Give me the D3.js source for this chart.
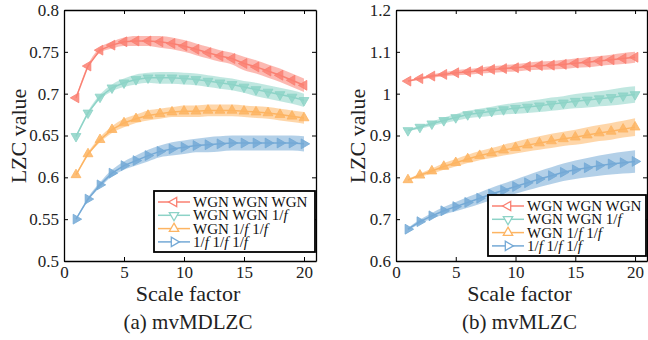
<!DOCTYPE html>
<html>
<head>
<meta charset="utf-8">
<script src="https://cdn.jsdelivr.net/npm/d3@7"></script>
<style>
  body { margin: 0; background: #fff; }
  svg { display: block; font-family: "Liberation Serif", "Times New Roman", serif; }
</style>
</head>
<body>
<svg id="chart" width="648" height="340"></svg>
<script>
const scales = [1, 2, 3, 4, 5, 6, 7, 8, 9, 10, 11, 12, 13, 14, 15, 16, 17, 18, 19, 20];
const seriesNames = ["WGN WGN WGN", "WGN WGN 1/f", "WGN 1/f 1/f", "1/f 1/f 1/f"];
const colors = ["#fa8072", "#8dd3c7", "#fdb462", "#74a9d6"];
const markerTurns = [-90, 180, 0, 90]; // left, down, up, right

// (a) mvMDLZC
const mdRed = [0.695, 0.733, 0.752, 0.758, 0.762, 0.763, 0.763, 0.762, 0.760, 0.757, 0.753, 0.749, 0.745, 0.742, 0.736, 0.732, 0.727, 0.722, 0.716, 0.710];
const mdGreen = [0.649, 0.677, 0.696, 0.707, 0.713, 0.717, 0.719, 0.719, 0.719, 0.718, 0.717, 0.715, 0.713, 0.711, 0.708, 0.705, 0.702, 0.699, 0.696, 0.692];
const mdOrange = [0.603, 0.628, 0.645, 0.657, 0.665, 0.670, 0.674, 0.676, 0.678, 0.679, 0.679, 0.680, 0.680, 0.680, 0.679, 0.678, 0.677, 0.675, 0.673, 0.671];
const mdBlue = [0.550, 0.574, 0.591, 0.605, 0.614, 0.620, 0.626, 0.631, 0.634, 0.636, 0.638, 0.639, 0.640, 0.641, 0.641, 0.641, 0.641, 0.641, 0.641, 0.640];
const mdRedErr = [0.001, 0.002, 0.003, 0.004, 0.005, 0.006, 0.006, 0.007, 0.007, 0.007, 0.007, 0.007, 0.007, 0.007, 0.008, 0.008, 0.008, 0.008, 0.008, 0.008];
const mdGreenErr = [0.001, 0.002, 0.003, 0.004, 0.005, 0.006, 0.006, 0.007, 0.007, 0.007, 0.007, 0.007, 0.007, 0.007, 0.007, 0.008, 0.008, 0.008, 0.008, 0.008];
const mdOrangeErr = [0.001, 0.002, 0.003, 0.004, 0.005, 0.005, 0.006, 0.006, 0.006, 0.007, 0.007, 0.007, 0.007, 0.007, 0.007, 0.007, 0.007, 0.007, 0.007, 0.007];
const mdBlueErr = [0.001, 0.002, 0.003, 0.004, 0.005, 0.006, 0.007, 0.007, 0.008, 0.008, 0.008, 0.009, 0.009, 0.009, 0.009, 0.009, 0.009, 0.009, 0.009, 0.009];
const mdTicks = [0.5, 0.55, 0.6, 0.65, 0.7, 0.75, 0.8];

// (b) mvMLZC
const mlRed = [1.030, 1.036, 1.042, 1.046, 1.050, 1.052, 1.055, 1.058, 1.060, 1.062, 1.065, 1.067, 1.068, 1.070, 1.073, 1.075, 1.078, 1.081, 1.084, 1.087];
const mlGreen = [0.912, 0.920, 0.928, 0.936, 0.943, 0.950, 0.954, 0.958, 0.962, 0.965, 0.968, 0.971, 0.975, 0.978, 0.982, 0.985, 0.988, 0.991, 0.995, 0.998];
const mlOrange = [0.794, 0.805, 0.815, 0.826, 0.835, 0.844, 0.852, 0.858, 0.865, 0.871, 0.877, 0.882, 0.887, 0.892, 0.896, 0.901, 0.906, 0.910, 0.915, 0.920];
const mlBlue = [0.676, 0.694, 0.708, 0.720, 0.730, 0.740, 0.750, 0.760, 0.769, 0.778, 0.787, 0.796, 0.804, 0.812, 0.818, 0.823, 0.828, 0.832, 0.835, 0.838];
const mlRedErr = [0.002, 0.003, 0.004, 0.005, 0.006, 0.007, 0.007, 0.008, 0.008, 0.009, 0.009, 0.010, 0.010, 0.011, 0.011, 0.012, 0.012, 0.012, 0.013, 0.013];
const mlGreenErr = [0.002, 0.004, 0.005, 0.007, 0.008, 0.009, 0.010, 0.011, 0.012, 0.013, 0.014, 0.015, 0.016, 0.016, 0.017, 0.018, 0.018, 0.019, 0.020, 0.020];
const mlOrangeErr = [0.002, 0.004, 0.006, 0.008, 0.009, 0.010, 0.011, 0.012, 0.013, 0.014, 0.015, 0.016, 0.017, 0.017, 0.018, 0.019, 0.019, 0.020, 0.020, 0.021];
const mlBlueErr = [0.003, 0.005, 0.007, 0.009, 0.011, 0.013, 0.014, 0.015, 0.016, 0.017, 0.018, 0.019, 0.020, 0.021, 0.022, 0.023, 0.024, 0.025, 0.026, 0.027];
const mlTicks = [0.6, 0.7, 0.8, 0.9, 1, 1.1, 1.2];

const xTicks = [0, 5, 10, 15, 20];

const panels = [
  {
    caption: "(a) mvMDLZC", left: 64, right: 316, yDomain: [0.5, 0.8], yTicks: mdTicks,
    values: [mdRed, mdGreen, mdOrange, mdBlue], errs: [mdRedErr, mdGreenErr, mdOrangeErr, mdBlueErr],
    legend: { x: 154, y: 191, w: 161, h: 61 }, labelX: 26
  },
  {
    caption: "(b) mvMLZC", left: 396, right: 647, yDomain: [0.6, 1.2], yTicks: mlTicks,
    values: [mlRed, mlGreen, mlOrange, mlBlue], errs: [mlRedErr, mlGreenErr, mlOrangeErr, mlBlueErr],
    legend: { x: 488, y: 195, w: 158, h: 61 }, labelX: 365
  }
];

const plotTop = 10;
const plotBottom = 261;
const svg = d3.select("#chart");

panels.forEach((p) => drawPanel(p));

function drawPanel(p) {
  const x = d3.scaleLinear().domain([0, 21]).range([p.left, p.right]);
  const y = d3.scaleLinear().domain(p.yDomain).range([plotBottom, plotTop]);
  const g = svg.append("g");

  // bands, lines and markers
  p.values.forEach((vals, k) => {
    const pts = scales.map((s, i) => ({ s, v: vals[i], e: p.errs[k][i] }));
    g.append("path")
      .datum(pts)
      .attr("fill", colors[k])
      .attr("fill-opacity", 0.55)
      .attr("d", d3.area().curve(d3.curveMonotoneX).x((d) => x(d.s)).y0((d) => y(d.v - d.e)).y1((d) => y(d.v + d.e)));
    g.append("path")
      .datum(pts)
      .attr("fill", "none")
      .attr("stroke", colors[k])
      .attr("stroke-width", 1.5)
      .attr("d", d3.line().x((d) => x(d.s)).y((d) => y(d.v)));
    g.append("g")
      .selectAll("path")
      .data(pts)
      .join("path")
      .attr("transform", (d) => `translate(${x(d.s)},${y(d.v)}) rotate(${markerTurns[k]})`)
      .attr("d", d3.symbol(d3.symbolTriangle, 42))
      .attr("fill", colors[k])
      .attr("fill-opacity", 0.85)
      .attr("stroke", colors[k])
      .attr("stroke-width", 0.8);
  });

  // axes on all four sides with inward ticks
  const tickFmt = (d) => String(+d.toFixed(2));
  g.append("g").attr("transform", `translate(0,${plotBottom})`)
    .call(d3.axisBottom(x).tickValues(xTicks).tickSizeInner(-4).tickSizeOuter(0).tickPadding(5));
  g.append("g").attr("transform", `translate(0,${plotTop})`)
    .call(d3.axisTop(x).tickValues(xTicks).tickSizeInner(-4).tickSizeOuter(0).tickFormat(""));
  g.append("g").attr("transform", `translate(${p.left},0)`)
    .call(d3.axisLeft(y).tickValues(p.yTicks).tickSizeInner(-4).tickSizeOuter(0).tickPadding(5).tickFormat(tickFmt));
  g.append("g").attr("transform", `translate(${p.right},0)`)
    .call(d3.axisRight(y).tickValues(p.yTicks).tickSizeInner(-4).tickSizeOuter(0).tickFormat(""));
  g.selectAll(".domain").attr("stroke", "#000").attr("stroke-width", 1.3);
  g.selectAll(".tick line").attr("stroke", "#000");
  g.selectAll(".tick text").attr("font-family", "Liberation Serif").attr("font-size", 17).attr("fill", "#222");

  // axis labels
  const cx = (p.left + p.right) / 2 - 2;
  g.append("text").attr("x", cx).attr("y", 301).attr("text-anchor", "middle")
    .attr("font-size", 22).attr("fill", "#222").text("Scale factor");
  g.append("text").attr("x", cx).attr("y", 329).attr("text-anchor", "middle")
    .attr("font-size", 21).attr("fill", "#222").text(p.caption);
  g.append("text").attr("transform", `translate(${p.labelX},136) rotate(-90)`).attr("text-anchor", "middle")
    .attr("font-size", 22).attr("fill", "#222").text("LZC value");

  // legend
  const L = p.legend;
  g.append("rect").attr("x", L.x).attr("y", L.y).attr("width", L.w).attr("height", L.h)
    .attr("fill", "#fff").attr("stroke", "#000").attr("stroke-width", 1.8);
  seriesNames.forEach((name, k) => {
    const ry = L.y + 11 + k * 13.3;
    g.append("line").attr("x1", L.x + 4).attr("x2", L.x + 36).attr("y1", ry).attr("y2", ry)
      .attr("stroke", colors[k]).attr("stroke-width", 1.5);
    g.append("path").attr("transform", `translate(${L.x + 20},${ry}) rotate(${markerTurns[k]})`)
      .attr("d", d3.symbol(d3.symbolTriangle, 38))
      .attr("fill", "#fff").attr("stroke", colors[k]).attr("stroke-width", 1.3);
    const t = g.append("text").attr("x", L.x + 39).attr("y", ry + 5).attr("font-size", 15).attr("fill", "#111");
    name.split(/(f)/).forEach((part) => {
      if (!part) return;
      t.append("tspan").attr("font-style", part === "f" ? "italic" : null).text(part);
    });
  });
}
</script>
</body>
</html>
